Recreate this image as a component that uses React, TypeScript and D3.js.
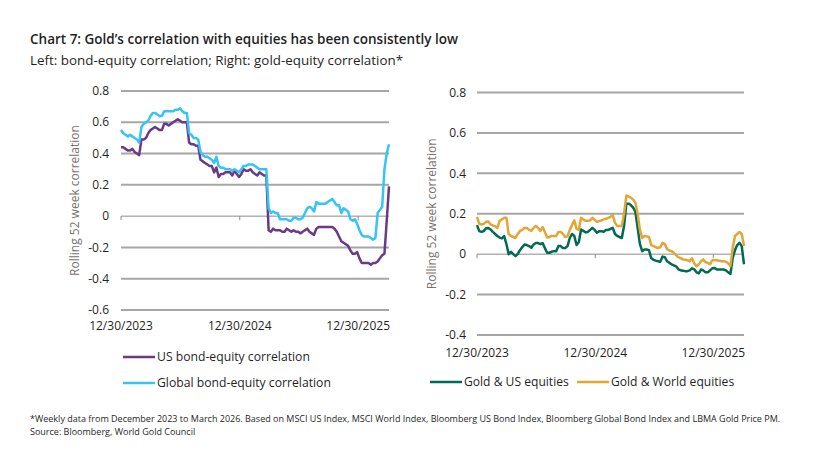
import React from 'react';
import * as d3 from 'd3';

// weekly observations, starting 12/30/2023
const START_DATE = '2023-12-30';

const US_BOND = [
  0.44, 0.44, 0.43, 0.42, 0.42, 0.43, 0.41, 0.40, 0.39, 0.49,
  0.49, 0.50, 0.53, 0.55, 0.56, 0.57, 0.56, 0.55, 0.55, 0.59,
  0.59, 0.58, 0.59, 0.60, 0.61, 0.62, 0.61, 0.60, 0.60, 0.60,
  0.47, 0.46, 0.46, 0.45, 0.45, 0.36, 0.35, 0.34, 0.33, 0.32,
  0.32, 0.28, 0.31, 0.25, 0.27, 0.27, 0.28, 0.28, 0.28, 0.26,
  0.29, 0.27, 0.25, 0.27, 0.30, 0.29, 0.29, 0.30, 0.28, 0.27,
  0.26, 0.28, 0.27, 0.26, 0.26, -0.09, -0.10, -0.08, -0.09, -0.09,
  -0.09, -0.10, -0.10, -0.08, -0.09, -0.10, -0.09, -0.10, -0.10, -0.11,
  -0.10, -0.09, -0.08, -0.10, -0.11, -0.12, -0.08, -0.07, -0.07, -0.07,
  -0.07, -0.07, -0.07, -0.07, -0.08, -0.10, -0.13, -0.16, -0.17, -0.18,
  -0.19, -0.22, -0.24, -0.24, -0.23, -0.27, -0.30, -0.30, -0.30, -0.30,
  -0.31, -0.30, -0.30, -0.29, -0.27, -0.25, -0.24, -0.03, 0.19,
];

const GLOBAL_BOND = [
  0.55, 0.53, 0.52, 0.51, 0.52, 0.51, 0.50, 0.49, 0.47, 0.57,
  0.59, 0.60, 0.61, 0.64, 0.66, 0.66, 0.65, 0.64, 0.64, 0.67,
  0.67, 0.67, 0.67, 0.67, 0.68, 0.68, 0.69, 0.67, 0.66, 0.66,
  0.53, 0.52, 0.50, 0.50, 0.49, 0.41, 0.39, 0.38, 0.38, 0.37,
  0.36, 0.34, 0.38, 0.32, 0.31, 0.31, 0.30, 0.30, 0.30, 0.29,
  0.30, 0.29, 0.28, 0.30, 0.32, 0.32, 0.33, 0.33, 0.33, 0.32,
  0.31, 0.30, 0.30, 0.30, 0.30, 0.05, 0.02, 0.03, 0.02, 0.02,
  -0.02, -0.02, -0.02, -0.02, -0.03, -0.03, -0.01, -0.01, -0.02, -0.02,
  -0.01, 0.02, 0.05, 0.06, 0.05, 0.03, 0.09, 0.08, 0.08, 0.08,
  0.08, 0.09, 0.10, 0.11, 0.09, 0.07, 0.07, 0.02, 0.05, 0.04,
  0.03, -0.02, -0.03, -0.02, -0.05, -0.09, -0.12, -0.13, -0.13, -0.13,
  -0.14, -0.15, -0.14, 0.02, 0.04, 0.06, 0.30, 0.40, 0.46,
];

const GOLD_US = [
  0.144, 0.114, 0.11, 0.114, 0.128, 0.13, 0.122, 0.11, 0.10, 0.09,
  0.082, 0.078, 0.09, 0.05, 0.0, 0.012, 0.0, -0.01, 0.0, 0.02,
  0.035, 0.048, 0.045, 0.04, 0.032, 0.048, 0.055, 0.055, 0.05, 0.055,
  0.03, 0.007, 0.007, 0.012, 0.015, 0.015, 0.04, 0.04, 0.03, 0.03,
  0.04, 0.08, 0.10, 0.09, 0.045, 0.06, 0.122, 0.115, 0.108, 0.11,
  0.12, 0.13, 0.12, 0.106, 0.114, 0.114, 0.11, 0.12, 0.12, 0.125,
  0.13, 0.10, 0.09, 0.085, 0.08, 0.14, 0.25, 0.25, 0.243, 0.23,
  0.21, 0.13, 0.05, 0.015, 0.023, 0.023, 0.02, -0.02, -0.028, -0.032,
  -0.035, -0.038, -0.012, -0.015, -0.035, -0.043, -0.05, -0.055, -0.06, -0.075,
  -0.08, -0.082, -0.084, -0.084, -0.08, -0.07, -0.075, -0.09, -0.095, -0.076,
  -0.08, -0.09, -0.09, -0.08, -0.07, -0.068, -0.076, -0.076, -0.076, -0.076,
  -0.08, -0.09, -0.098, -0.02, 0.02, 0.045, 0.056, 0.04, -0.05,
];

const GOLD_WORLD = [
  0.185, 0.15, 0.147, 0.15, 0.16, 0.162, 0.147, 0.142, 0.138, 0.13,
  0.165, 0.172, 0.18, 0.18, 0.10, 0.09, 0.085, 0.08, 0.10, 0.115,
  0.12, 0.13, 0.13, 0.12, 0.115, 0.13, 0.14, 0.13, 0.115, 0.134,
  0.11, 0.082, 0.085, 0.09, 0.09, 0.09, 0.11, 0.11, 0.10, 0.085,
  0.088, 0.12, 0.145, 0.167, 0.125, 0.12, 0.18, 0.172, 0.165, 0.165,
  0.167, 0.18, 0.17, 0.16, 0.164, 0.167, 0.172, 0.175, 0.18, 0.185,
  0.193, 0.155, 0.139, 0.139, 0.139, 0.20, 0.29, 0.285, 0.28, 0.27,
  0.255, 0.20, 0.12, 0.08, 0.09, 0.088, 0.085, 0.045, 0.04, 0.035,
  0.03, 0.035, 0.056, 0.05, 0.025, 0.018, 0.015, 0.007, -0.005, -0.015,
  -0.02, -0.026, -0.028, -0.03, -0.035, -0.02, -0.045, -0.06, -0.05, -0.035,
  -0.026, -0.04, -0.043, -0.05, -0.03, -0.03, -0.03, -0.033, -0.035, -0.035,
  -0.037, -0.045, -0.06, 0.03, 0.09, 0.10, 0.11, 0.10, 0.04,
];

const LEFT_Y_TICKS = [0.8, 0.6, 0.4, 0.2, 0, -0.2, -0.4, -0.6];
const RIGHT_Y_TICKS = [0.8, 0.6, 0.4, 0.2, 0, -0.2, -0.4];
const X_TICKS = ['2023-12-30', '2024-12-30', '2025-12-30'];

const TITLE = 'Chart 7: Gold\u2019s correlation with equities has been consistently low';
const SUBTITLE = 'Left: bond-equity correlation; Right: gold-equity correlation*';
const FOOTNOTE_1 =
  '*Weekly data from December 2023 to March 2026. Based on MSCI US Index, MSCI World Index, Bloomberg US Bond Index, Bloomberg Global Bond Index and LBMA Gold Price PM.';
const FOOTNOTE_2 = 'Source: Bloomberg, World Gold Council';

const FONT = '"Open Sans", "Noto Sans", sans-serif';
const TEXT = '#1f1f1f';
const GRID = '#a6a6a6';

const parse = d3.timeParse('%Y-%m-%d');
const fmt = d3.timeFormat('%m/%d/%Y');
const start = parse(START_DATE) as Date;
const dates = US_BOND.map((_, i) => d3.timeDay.offset(start, i * 7));

interface Series {
  name: string;
  values: number[];
  color: string;
}

interface PanelProps {
  x0: number;
  x1: number;
  yTop: number;
  yBottom: number;
  yTicks: number[];
  labelRight: number;
  axisTitleX: number;
  xLabelY: number;
  series: Series[];
}

function Panel({ x0, x1, yTop, yBottom, yTicks, labelRight, axisTitleX, xLabelY, series }: PanelProps) {
  const x = d3.scaleTime().domain([dates[0], dates[dates.length - 1]]).range([x0, x1]);
  const y = d3
    .scaleLinear()
    .domain([d3.min(yTicks) as number, d3.max(yTicks) as number])
    .range([yBottom, yTop]);

  const line = d3
    .line<number>()
    .x((_, i) => x(dates[i]))
    .y((d) => y(d));

  const tickDates = X_TICKS.map((t) => parse(t) as Date);

  return (
    <g>
      {yTicks.map((t) => (
        <g key={t}>
          {t !== 0 && (
            <line x1={x0} x2={x1} y1={y(t)} y2={y(t)} stroke={GRID} strokeWidth={2} />
          )}
          <text
            x={labelRight}
            y={y(t)}
            dy="0.35em"
            textAnchor="end"
            fontSize={12}
            fill={TEXT}
          >
            {t === 0 ? '0' : t.toFixed(1)}
          </text>
        </g>
      ))}
      {/* zero axis with year ticks */}
      <line x1={x0} x2={x1} y1={y(0)} y2={y(0)} stroke="#8c8c8c" strokeWidth={1} />
      {tickDates.map((d, i) => (
        <g key={i}>
          <line x1={x(d)} x2={x(d)} y1={y(0)} y2={y(0) + 4} stroke="#8c8c8c" strokeWidth={1} />
          <text x={x(d)} y={xLabelY} textAnchor="middle" fontSize={12} fill={TEXT}>
            {fmt(d)}
          </text>
        </g>
      ))}
      <text
        transform={`translate(${axisTitleX},${(yTop + yBottom) / 2}) rotate(-90)`}
        textAnchor="middle"
        fontSize={12}
        fill="#7a716b"
      >
        Rolling 52 week correlation
      </text>
      {series.map((s) => (
        <path
          key={s.name}
          d={line(s.values) || ''}
          fill="none"
          stroke={s.color}
          strokeWidth={2.5}
          strokeLinejoin="round"
        />
      ))}
    </g>
  );
}

export default function App() {
  const leftSeries: Series[] = [
    { name: 'US bond-equity correlation', values: US_BOND, color: '#6b3a87' },
    { name: 'Global bond-equity correlation', values: GLOBAL_BOND, color: '#36c4f4' },
  ];
  const rightSeries: Series[] = [
    { name: 'Gold & US equities', values: GOLD_US, color: '#006a52' },
    { name: 'Gold & World equities', values: GOLD_WORLD, color: '#e2a637' },
  ];

  return (
    <svg
      width={814}
      height={454}
      style={{ position: 'absolute', left: 0, top: 0, background: '#fff' }}
      fontFamily={FONT}
    >
      <text x={30} y={44} fontSize={13.5} fontWeight={600} fill={TEXT}>
        {TITLE}
      </text>
      <text x={30} y={65} fontSize={13.4} fill={TEXT}>
        {SUBTITLE}
      </text>

      <Panel
        x0={121}
        x1={389}
        yTop={91}
        yBottom={310}
        yTicks={LEFT_Y_TICKS}
        labelRight={109}
        axisTitleX={79}
        xLabelY={330}
        series={leftSeries}
      />
      <Panel
        x0={477}
        x1={744}
        yTop={92.5}
        yBottom={335}
        yTicks={RIGHT_Y_TICKS}
        labelRight={466}
        axisTitleX={436}
        xLabelY={357}
        series={rightSeries}
      />

      {/* left legend, stacked */}
      {leftSeries.map((s, i) => (
        <g key={s.name} transform={`translate(123,${357 + i * 26})`}>
          <line x1={0} x2={32} y1={0} y2={0} stroke={s.color} strokeWidth={2.5} />
          <text x={34} y={0} dy="0.35em" fontSize={12.2} fill={TEXT}>
            {s.name}
          </text>
        </g>
      ))}

      {/* right legend, inline */}
      {rightSeries.map((s, i) => (
        <g key={s.name} transform={`translate(${i === 0 ? 430 : 577},382)`}>
          <line x1={0} x2={32} y1={0} y2={0} stroke={s.color} strokeWidth={2.5} />
          <text x={34} y={0} dy="0.35em" fontSize={12.1} fill={TEXT}>
            {s.name}
          </text>
        </g>
      ))}

      <text x={30} y={422} fontSize={9} fill={TEXT}>
        {FOOTNOTE_1}
      </text>
      <text x={30} y={435} fontSize={9} fill={TEXT}>
        {FOOTNOTE_2}
      </text>
    </svg>
  );
}
